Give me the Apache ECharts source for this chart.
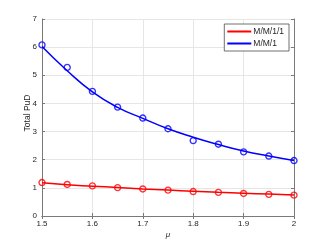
<!DOCTYPE html>
<html><head><meta charset="utf-8">
<script src="https://cdn.jsdelivr.net/npm/echarts@6/dist/echarts.min.js"></script>
<style>html,body{margin:0;padding:0;background:#fff}#c{width:325px;height:244px}</style>
</head><body><div id="c"></div>
<script>
const mu = [1.5,1.55,1.6,1.65,1.7,1.75,1.8,1.85,1.9,1.95,2.0];
const mm11Line = [1.18,1.11,1.06,1.01,0.96,0.92,0.88,0.84,0.81,0.78,0.75];
const mm1Line  = [6.02,5.16,4.41,3.86,3.47,3.10,2.80,2.54,2.31,2.13,1.97];
const mm11Sim  = [1.19,1.12,1.07,1.01,0.96,0.92,0.87,0.84,0.80,0.77,0.74];
const mm1Sim   = [6.08,5.28,4.43,3.87,3.48,3.10,2.68,2.55,2.28,2.13,1.97];
const seriesNames = ['M/M/1/1','M/M/1'];
const xName = 'μ';
const yName = 'Total PuD';

const pair = (xs, ys) => xs.map((x,i)=>[x, ys[i]]);
const font = 'Liberation Sans, Arial, sans-serif';
const txt = '#262626';
const gridLine = {show:true, lineStyle:{color:'#e6e6e6', width:1}};
const axLine = {show:true, lineStyle:{color:'#7a7a7a', width:1}};
const tick = {show:true, inside:true, length:3, lineStyle:{color:'#7a7a7a'}};
const fmt = v => String(Math.round(v*10)/10);

const chart = echarts.init(document.getElementById('c'), null, {renderer:'canvas'});
chart.setOption({
  animation:false,
  backgroundColor:'#fff',
  grid:{left:42, right:31, top:19, bottom:27, show:false},
  legend:{
    right:36, top:24, orient:'vertical', itemGap:3, itemWidth:24, itemHeight:2,
    padding:[3,5,3,3], backgroundColor:'#fff', borderColor:'#4d4d4d', borderWidth:0.8, borderRadius:0,
    textStyle:{fontFamily:font, fontSize:8.5, color:txt, padding:[0,0,0,-3]},
    data:[{name:seriesNames[0], icon:'rect'},{name:seriesNames[1], icon:'rect'}]
  },
  xAxis:[
    {type:'value', min:1.5, max:2, interval:0.1, name:xName, nameLocation:'middle', nameGap:15,
     nameMoveOverlap:false,
     nameTextStyle:{fontFamily:font, fontSize:8, color:txt, fontStyle:'italic'},
     axisLine:axLine, axisTick:tick, splitLine:gridLine,
     axisLabel:{fontFamily:font, fontSize:8, color:txt, margin:4, formatter:fmt}},
    {type:'value', min:1.5, max:2, interval:0.1, position:'top',
     axisLine:axLine, axisTick:tick, splitLine:{show:false}, axisLabel:{show:false}}
  ],
  yAxis:[
    {type:'value', min:0, max:7, interval:1, name:yName, nameLocation:'middle', nameGap:10,
     nameMoveOverlap:false,
     nameTextStyle:{fontFamily:font, fontSize:8.5, color:txt, padding:[0,0,0,9]},
     axisLine:axLine, axisTick:tick, splitLine:gridLine,
     axisLabel:{fontFamily:font, fontSize:8, color:txt, margin:5}},
    {type:'value', min:0, max:7, interval:1, position:'right',
     axisLine:axLine, axisTick:tick, splitLine:{show:false}, axisLabel:{show:false}}
  ],
  series:[
    {name:seriesNames[0], type:'line', smooth:true, showSymbol:false, data:pair(mu, mm11Line),
     lineStyle:{color:'#ff0000', width:1.5}, itemStyle:{color:'#ff0000'}, z:3},
    {name:seriesNames[1], type:'line', smooth:true, showSymbol:false, data:pair(mu, mm1Line),
     lineStyle:{color:'#0000ff', width:1.5}, itemStyle:{color:'#0000ff'}, z:3},
    {name:seriesNames[0]+' sim', type:'scatter', data:pair(mu, mm11Sim), symbol:'circle', symbolSize:6,
     itemStyle:{color:'rgba(0,0,0,0)', borderColor:'#ff0000', borderWidth:1.4}, z:4},
    {name:seriesNames[1]+' sim', type:'scatter', data:pair(mu, mm1Sim), symbol:'circle', symbolSize:6,
     itemStyle:{color:'rgba(0,0,0,0)', borderColor:'#0000ff', borderWidth:1.4}, z:4}
  ]
});
</script></body></html>
